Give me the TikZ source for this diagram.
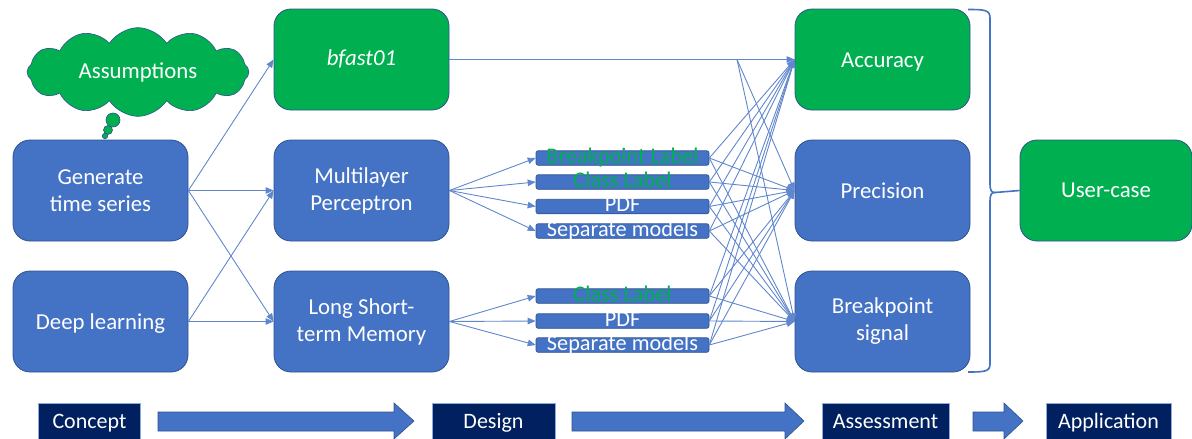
\documentclass[tikz,border=0pt]{standalone}
\usepackage{fontspec}
\setmainfont{Carlito}
\usetikzlibrary{arrows.meta,shapes.symbols}
\definecolor{boxblue}{HTML}{4472C4}
\definecolor{edgeblue}{HTML}{2F528F}
\definecolor{boxgreen}{HTML}{00B050}
\definecolor{navy}{HTML}{002060}
% single line of text with its baseline a fixed distance below the node centre
\newcommand\midtext[2][7.5pt]{\raisebox{-#1}[0pt][0pt]{#2}}
\tikzset{
  x=1pt, y=-1pt,
  bigbox/.style={draw=edgeblue, line width=0.8pt, rounded corners=17pt,
    minimum width=175pt, minimum height=101pt, text=white, align=center,
    font=\fontsize{22.8}{27}\selectfont, inner sep=0pt},
  bluebox/.style={bigbox, fill=boxblue},
  greenbox/.style={bigbox, fill=boxgreen},
  smallbox/.style={draw=edgeblue, line width=0.6pt, fill=boxblue, rounded corners=2pt,
    minimum width=173pt, minimum height=14.5pt, inner sep=0pt},
  sbtext/.style={font=\fontsize{22.3}{22}\selectfont, inner sep=0pt,
    text height=0.7em, text depth=0.25em, yshift=-3pt},
  link/.style={draw=boxblue!85, line width=0.9pt},
  arr/.style={link, -{Triangle[length=8pt,width=6.5pt]}},
  stage/.style={fill=navy, draw=boxblue!60, line width=0.5pt, minimum width=102pt,
    minimum height=36pt, inner sep=0pt, text=white, font=\fontsize{22}{22}\selectfont},
  bigarrow/.style={fill=boxblue, draw=edgeblue, line width=0.6pt},
  bubble/.style={circle, fill=boxgreen, draw=edgeblue, line width=0.6pt, inner sep=0pt}
}
\begin{document}
\begin{tikzpicture}
\useasboundingbox (0,0) rectangle (1192,439);

% thought cloud over the first concept box
\node[cloud, cloud puffs=12, cloud puff arc=115, aspect=2.5, fill=boxgreen, draw=edgeblue,
  line width=0.6pt, minimum width=222pt, minimum height=88pt, text=white,
  font=\fontsize{22.8}{27}\selectfont, inner sep=0pt] (cloud) at (138,72) {\midtext[6pt]{Assumptions}};
\node[bubble, minimum size=14pt] (b1) at (113,120) {};
\node[bubble, minimum size=9pt] (b2) at (108,130) {};
\node[bubble, minimum size=5.5pt] (b3) at (105,136) {};

% concept column
\node[bluebox] (gen) at (100.5,190.5) {Generate\\time series};
\node[bluebox] (dl) at (100.5,321.5) {\midtext[8pt]{Deep learning}};

% design column
\node[greenbox, font=\fontsize{22.8}{27}\selectfont\itshape] (bf) at (361.5,59.5) {\midtext[6pt]{bfast01}};
\node[bluebox] (mlp) at (361.5,190.5) {Multilayer\\Perceptron};
\node[bluebox] (lstm) at (361.5,321.5) {Long Short-\\term Memory};

% model outputs
\node[smallbox, label={[sbtext, text=boxgreen]center:Breakpoint Label}] (m1) at (622.5,158) {};
\node[smallbox, label={[sbtext, text=boxgreen]center:Class Label}] (m2) at (622.5,182) {};
\node[smallbox, label={[sbtext, text=white]center:PDF}] (m3) at (622.5,206.5) {};
\node[smallbox, label={[sbtext, text=white]center:Separate models}] (m4) at (622.5,231) {};
\node[smallbox, label={[sbtext, text=boxgreen]center:Class Label}] (l1) at (622.5,296) {};
\node[smallbox, label={[sbtext, text=white]center:PDF}] (l2) at (622.5,321) {};
\node[smallbox, label={[sbtext, text=white]center:Separate models}] (l3) at (622.5,345) {};

% assessment column
\node[greenbox] (acc) at (882.5,59.5) {\midtext{Accuracy}};
\node[bluebox] (prec) at (882.5,190.5) {\midtext[8pt]{Precision}};
\node[bluebox] (bps) at (882.5,321.5) {Breakpoint\\signal};

% application
\node[greenbox, minimum width=172pt] (uc) at (1106,190.5) {\midtext[7pt]{User-case}};

% concept to design
\draw[arr] (gen.east) -- (bf.west);
\draw[arr] (gen.east) -- (mlp.west);
\draw[arr] (gen.east) -- (lstm.west);
\draw[arr] (dl.east) -- (mlp.west);
\draw[arr] (dl.east) -- (lstm.west);

% design to outputs
\foreach \m in {m1,m2,m3,m4} \draw[arr] (mlp.east) -- (\m.west);
\foreach \m in {l1,l2,l3} \draw[arr] (lstm.east) -- (\m.west);

% outputs to metrics
\foreach \m in {m1,m2,m3,m4,l1,l2,l3}
  \foreach \t in {acc,prec,bps}
    \draw[arr] (\m.east) -- (\t.west);

% bfast01 to metrics
\coordinate (split) at (737,59.5);
\draw[arr] (bf.east) -- (split) -- (acc.west);
\draw[arr] (split) -- (prec.west);
\draw[arr] (split) -- (bps.west);

% brace gathering the metrics
\coordinate (tip) at (995,192.5);
\draw[draw=boxblue, line width=1.6pt]
  (968,9.5) .. controls (985,9.5) and (990,10) .. (990,18)
  -- (990,183) .. controls (990,190) and (991,192.5) .. (tip)
  .. controls (991,192.5) and (990,195) .. (990,202)
  -- (990,364) .. controls (990,371.5) and (985,372) .. (968,372);
\draw[draw=boxblue, line width=1.6pt] (tip) -- (uc.west);

% stage bar
\node[stage] (s1) at (89.5,421) {\midtext[7pt]{Concept}};
\node[stage, minimum width=123pt] (s2) at (493.5,421) {\midtext[7pt]{Design}};
\node[stage, minimum width=127pt] (s3) at (885.5,421) {\midtext[7pt]{Assessment}};
\node[stage, minimum width=125pt] (s4) at (1108.5,421) {\midtext[7pt]{Application}};
\draw[bigarrow] (158,412) -- (394,412) -- (394,403) -- (414,421) -- (394,439) -- (394,431) -- (158,431) -- cycle;
\draw[bigarrow] (572,412) -- (785,412) -- (785,403) -- (804,421) -- (785,439) -- (785,431) -- (572,431) -- cycle;
\draw[bigarrow] (973,412) -- (1004,412) -- (1004,403) -- (1023,421) -- (1004,439) -- (1004,431) -- (973,431) -- cycle;
\end{tikzpicture}
\end{document}
